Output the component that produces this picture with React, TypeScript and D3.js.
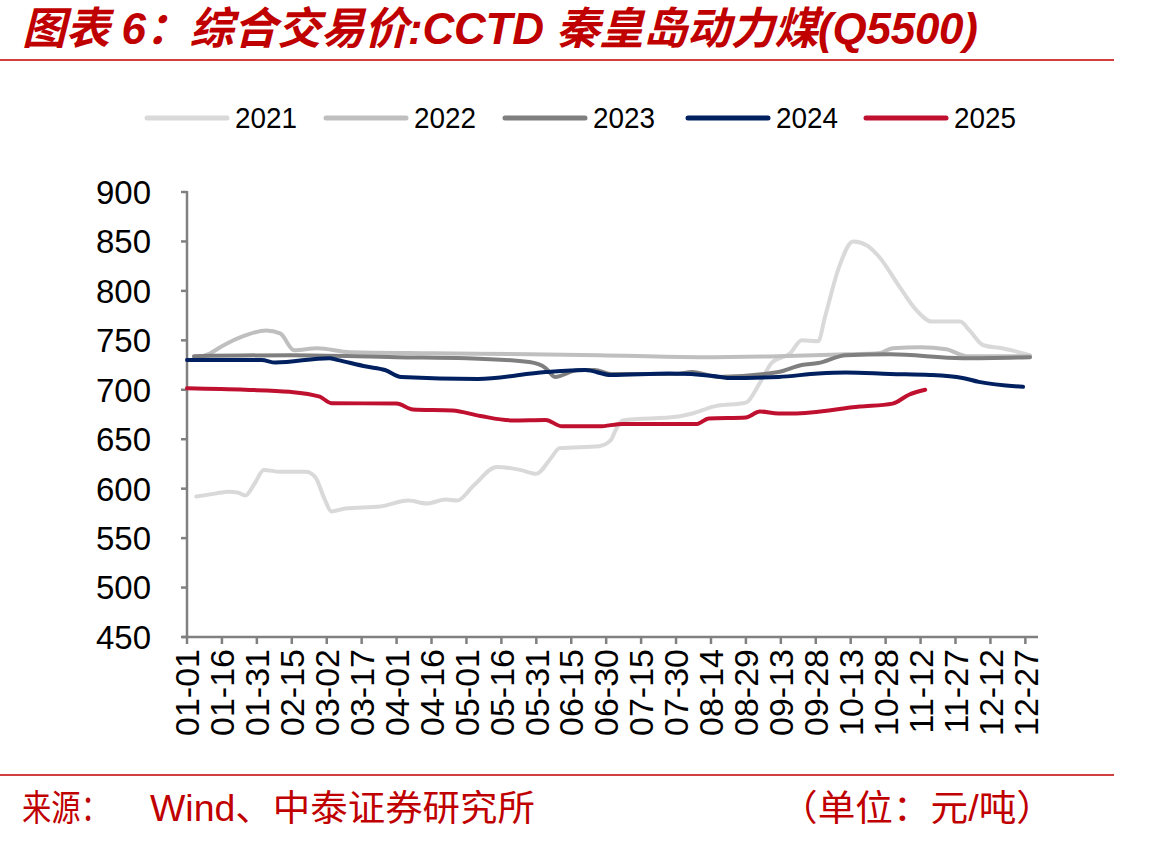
import React, { useEffect } from 'react'
import * as d3 from 'd3'

// x tick labels, every 15 days
const tickLabels = ['01-01','01-16','01-31','02-15','03-02','03-17','04-01','04-16','05-01','05-16','05-31','06-15','06-30','07-15','07-30','08-14','08-29','09-13','09-28','10-13','10-28','11-12','11-27','12-12','12-27']
const yTicks = [450, 500, 550, 600, 650, 700, 750, 800, 850, 900]

const dates2021 = ['01-05','01-13','01-19','01-23','01-26','01-30','02-03','02-10','02-21','02-25','03-01','03-04','03-10','03-25','04-06','04-14','04-22','04-27','05-04','05-14','05-24','05-31','06-06','06-10','06-27','07-02','07-04','07-07','07-31','08-06','08-15','08-29','09-04','09-09','09-17','09-22','09-29','10-02','10-08','10-14','10-20','10-25','11-03','11-10','11-17','11-29','12-03','12-09','12-17','12-29']
const vals2021 = [592,595,597,596,593,605,619,617,617,612,590,577,580,582,588,585,589,588,603,622,619,615,630,641,643,649,659,669,673,676,683,687,707,727,737,750,749,774,824,850,846,835,804,781,769,769,760,745,742,735]

const dates2022 = ['01-04','01-11','01-16','01-26','02-04','02-10','02-16','02-26','03-12','04-17','05-28','06-27','08-09','09-12','10-12','10-25','10-31','11-12','11-23','12-02','12-29']
const vals2022 = [732,737,744,755,760,757,740,742,738,737,736,735,733,734,736,737,742,743,741,734,734]

const dates2023 = ['01-04','02-15','04-01','05-01','05-28','06-04','06-08','06-18','06-25','07-02','07-30','08-06','08-17','09-12','09-22','09-29','10-11','10-30','11-30','12-29']
const vals2023 = [734,735,733,732,728,722,713,720,720,716,716,718,713,718,725,727,735,736,732,733]

const dates2024 = ['01-01','02-02','02-08','03-03','03-07','03-19','03-27','04-03','05-06','06-04','06-21','07-02','07-27','08-15','08-21','09-12','09-29','10-11','10-30','11-16','11-30','12-07','12-26']
const vals2024 = [730,730,727.5,732,730,723.5,720,713,711,718,720,715,716.5,714,712,713,716.5,717.5,716,715,712,708,703]

const dates2025 = ['01-01','01-26','02-14','02-27','03-04','04-01','04-08','04-25','05-07','05-21','06-04','06-11','06-27','07-07','08-08','08-13','08-29','09-04','09-12','09-18','10-17','10-31','11-07','11-14']
const vals2025 = [701.5,700,698,693,686.5,686,680,679,673.5,669,669.5,663,663,665.5,665.5,671,672,678,676,676,683,686,695,700]

const seriesNames = ['2021', '2022', '2023', '2024', '2025']
const seriesColors = ['#d9d9d9', '#bfbfbf', '#7f7f7f', '#002060', '#c0102f']
const seriesDates = [dates2021, dates2022, dates2023, dates2024, dates2025]
const seriesVals = [vals2021, vals2022, vals2023, vals2024, vals2025]

const W = 1154
const H = 842
const RED = '#c00000'
const AXIS = '#808080'
const latin = '"Liberation Sans", Arial, sans-serif'
const cjk = '"Liberation Sans", Arial, "Noto Sans CJK SC", sans-serif'

// all month-day strings placed on one non-leap year
const parseMD = (md: string) => d3.timeParse('%Y-%m-%d')('2021-' + md) as Date

export default function App() {
  useEffect(() => {
    document.body.style.margin = '0'
  }, [])

  const x = d3.scaleTime()
    .domain([new Date(2021, 0, 1), new Date(2022, 0, 1)])
    .range([187, 1037])
  const y = d3.scaleLinear().domain([450, 900]).range([637, 192])

  const line = d3.line<[Date, number]>()
    .x(d => x(d[0]))
    .y(d => y(d[1]))
    .curve(d3.curveMonotoneX)

  const series = seriesNames.map((name, i) => ({
    name,
    color: seriesColors[i],
    points: seriesDates[i].map((md, j) => [parseMD(md), seriesVals[i][j]] as [Date, number]),
  }))

  const legendX = [147, 326, 505, 688, 866]

  return (
    <svg width={W} height={H} style={{ display: 'block', background: '#fff' }}>
      {/* title */}
      <text x={22} y={44} fill={RED} fontSize={44} fontWeight="bold" fontStyle="italic"
        fontFamily={cjk} textLength={956} lengthAdjust="spacing">
        图表 6：综合交易价:CCTD 秦皇岛动力煤(Q5500)
      </text>
      <line x1={0} x2={1114} y1={60} y2={60} stroke={RED} strokeWidth={1.5} />

      {/* legend */}
      {series.map((s, i) => (
        <g key={s.name}>
          <line x1={legendX[i]} x2={legendX[i] + 80} y1={118} y2={118}
            stroke={s.color} strokeWidth={5} strokeLinecap="round" />
          <text x={legendX[i] + 88} y={118} dy="0.36em" fontSize={29}
            fontFamily={latin} fill="#000" textLength={62} lengthAdjust="spacingAndGlyphs">{s.name}</text>
        </g>
      ))}

      {/* y axis */}
      <line x1={187} x2={187} y1={y(900) - 1} y2={y(450)} stroke={AXIS} strokeWidth={2.5} />
      {yTicks.map(t => (
        <g key={t}>
          <line x1={181} x2={187} y1={y(t)} y2={y(t)} stroke={AXIS} strokeWidth={2.5} />
          <text x={151} y={y(t)} dy="0.36em" textAnchor="end" fontSize={33}
            fontFamily={latin} fill="#000">{t}</text>
        </g>
      ))}

      {/* x axis */}
      <line x1={182} x2={1038} y1={637} y2={637} stroke={AXIS} strokeWidth={2.5} />
      {tickLabels.map(l => {
        const px = x(parseMD(l))
        return (
          <g key={l}>
            <line x1={px} x2={px} y1={637} y2={644} stroke={AXIS} strokeWidth={2.5} />
            <text transform={`translate(${px},649) rotate(-90)`} dy="0.36em" textAnchor="end"
              fontSize={34} fontFamily={latin} fill="#000">{l}</text>
          </g>
        )
      })}

      {/* series */}
      {series.map(s => (
        <path key={s.name} d={line(s.points) || ''} fill="none" stroke={s.color}
          strokeWidth={4} strokeLinejoin="round" strokeLinecap="round" />
      ))}

      {/* footer */}
      <line x1={0} x2={1114} y1={775} y2={775} stroke={RED} strokeWidth={1.5} />
      <text x={22} y={821} fill={RED} fontSize={36} fontFamily={cjk}
        textLength={88} lengthAdjust="spacingAndGlyphs">来源：</text>
      <text x={150} y={821} fill={RED} fontSize={36} fontFamily={cjk}
        textLength={385} lengthAdjust="spacingAndGlyphs">Wind、中泰证券研究所</text>
      <text x={780} y={821} fill={RED} fontSize={36} fontFamily={cjk}
        textLength={274} lengthAdjust="spacingAndGlyphs">（单位：元/吨）</text>
    </svg>
  )
}
